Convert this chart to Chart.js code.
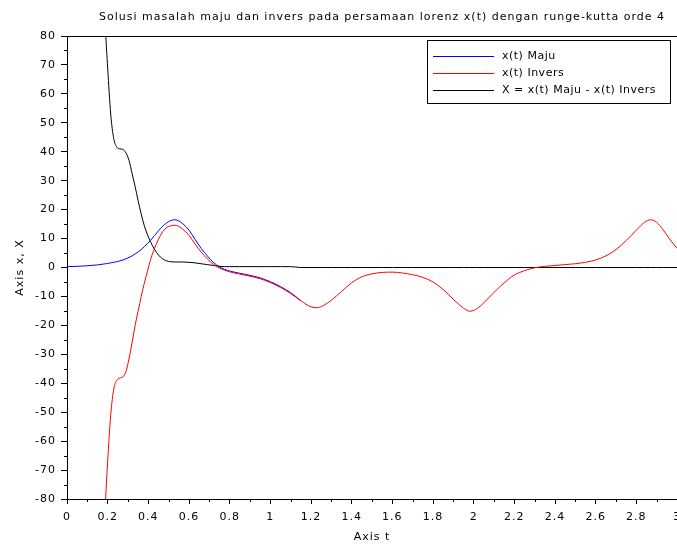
<!DOCTYPE html>
<html>
<head>
<meta charset="utf-8">
<title>Lorenz x(t) - runge-kutta orde 4</title>
<script src="https://cdn.jsdelivr.net/npm/chart.js@4/dist/chart.umd.min.js"></script>
<style>
  html, body { margin: 0; padding: 0; background: #fff; }
  #plot { display: block; }
</style>
</head>
<body>
<canvas id="plot" width="677" height="544"></canvas>
<script>
// waktu t (sumbu horizontal)
const tValues = [
    0, 0.05, 0.1, 0.15, 0.18, 0.19, 0.2, 0.215, 0.23, 0.245,
    0.26, 0.275, 0.29, 0.305, 0.32, 0.335, 0.35, 0.365, 0.38, 0.395,
    0.41, 0.43, 0.45, 0.47, 0.49, 0.51, 0.53, 0.55, 0.57, 0.6,
    0.63, 0.66, 0.69, 0.72, 0.75, 0.8, 0.85, 0.9, 0.95, 1.0,
    1.05, 1.1, 1.15, 1.2, 1.23, 1.26, 1.3, 1.35, 1.4, 1.45,
    1.5, 1.55, 1.6, 1.65, 1.7, 1.75, 1.8, 1.85, 1.9, 1.95,
    1.98, 2.01, 2.05, 2.1, 2.15, 2.2, 2.25, 2.3, 2.35, 2.4,
    2.45, 2.5, 2.55, 2.6, 2.65, 2.7, 2.75, 2.8, 2.84, 2.87,
    2.9, 2.93, 2.96, 3.0
];

// x(t) hasil integrasi maju; setelah t = 1.15 berimpit dengan x(t) invers
const xMaju = [
    0.3, 0.4, 0.6, 0.9, 1.2, 1.3, 1.4, 1.6, 1.8, 2.0,
    2.3, 2.6, 3.0, 3.5, 4.0, 4.7, 5.4, 6.2, 7.2, 8.2,
    9.3, 11.0, 12.7, 14.2, 15.4, 16.2, 16.5, 16.1, 15.1, 12.9,
    9.7, 6.6, 4.0, 1.8, 0.2, -1.2, -2.0, -2.7, -3.6, -4.9,
    -6.6, -8.7, -11.5, null, null, null, null, null, null, null,
    null, null, null, null, null, null, null, null, null, null,
    null, null, null, null, null, null, null, null, null, null,
    null, null, null, null, null, null, null, null, null, null,
    null, null, null, null
];

// x(t) hasil integrasi mundur (invers)
const xInvers = [
    null, null, null, -160, -97, -80, -67, -51, -42, -39,
    -38.2, -37.8, -36, -31.5, -26, -20, -15, -10, -5.5, -1.5,
    2.5, 6.5, 9.8, 12.3, 13.8, 14.4, 14.6, 14.2, 13.2, 11.1,
    8.1, 5.3, 3.0, 1.1, -0.2, -1.5, -2.3, -3.0, -3.9, -5.2,
    -6.9, -9.0, -11.5, -13.6, -13.9, -13.2, -11.3, -8.3, -5.3, -3.2,
    -2.2, -1.7, -1.6, -1.9, -2.5, -3.4, -5.0, -7.6, -11.0, -14.0,
    -15.1, -14.5, -12.2, -8.6, -5.3, -2.6, -1.1, -0.1, 0.4, 0.7,
    1.0, 1.3, 1.8, 2.6, 4.0, 6.2, 9.3, 12.9, 15.6, 16.5,
    15.6, 13.2, 10.2, 6.6
];

// X = x(t) Maju - x(t) Invers
const selisih = [
    null, null, null, 161, 98, 81.3, 69, 53, 44.5, 41.6,
    41, 40.8, 39.6, 37, 32.5, 28, 23, 18.5, 14.5, 11.5,
    9, 6.3, 4.3, 3.0, 2.3, 2.0, 1.9, 1.9, 1.9, 1.8,
    1.6, 1.3, 1.0, 0.7, 0.4, 0.3, 0.3, 0.3, 0.3, 0.3,
    0.3, 0.3, 0, 0, 0, 0, 0, 0, 0, 0,
    0, 0, 0, 0, 0, 0, 0, 0, 0, 0,
    0, 0, 0, 0, 0, 0, 0, 0, 0, 0,
    0, 0, 0, 0, 0, 0, 0, 0, 0, 0,
    0, 0, 0, 0
];

const judul = 'Solusi masalah maju dan invers pada persamaan lorenz x(t) dengan runge-kutta orde 4';
const FONT = '"DejaVu Sans", "Liberation Sans", sans-serif';

function toPoints(values) {
    return tValues.map((t, i) => ({ x: t, y: values[i] }));
}

// huruf sedikit direnggangkan seperti keluaran Scilab
const spacingPlugin = {
    id: 'spacing',
    beforeDraw(chart) {
        chart.ctx.letterSpacing = '1px';
    }
};

// garis-garis kecil (minor tick) + bingkai atas + judul + kotak legenda
const decorPlugin = {
    id: 'decor',
    afterDraw(chart) {
        const ctx = chart.ctx;
        const area = chart.chartArea;
        const sx = chart.scales.x;
        const sy = chart.scales.y;

        ctx.save();
        ctx.strokeStyle = '#000';
        ctx.lineWidth = 1;
        ctx.beginPath();
        for (let v = -75; v <= 75; v += 10) {
            const y = Math.round(sy.getPixelForValue(v)) + 0.5;
            ctx.moveTo(area.left - 3, y);
            ctx.lineTo(area.left, y);
        }
        for (let k = 1; k < 30; k += 2) {
            const x = Math.round(sx.getPixelForValue(k / 10)) + 0.5;
            ctx.moveTo(x, area.bottom);
            ctx.lineTo(x, area.bottom + 3);
        }
        // bingkai atas
        const top = Math.round(area.top) + 0.5;
        ctx.moveTo(area.left, top);
        ctx.lineTo(area.right, top);
        ctx.stroke();

        // judul
        ctx.fillStyle = '#000';
        ctx.font = '11px ' + FONT;
        ctx.letterSpacing = '1px';
        ctx.textAlign = 'center';
        ctx.textBaseline = 'middle';
        ctx.fillText(judul, 382, 17);

        // legenda
        const box = { x: 427.5, y: 40.5, w: 243, h: 63 };
        ctx.fillStyle = '#fff';
        ctx.fillRect(box.x, box.y, box.w, box.h);
        ctx.strokeRect(box.x, box.y, box.w, box.h);
        ctx.textAlign = 'left';
        ctx.letterSpacing = '0.5px';
        chart.data.datasets.forEach((ds, i) => {
            const y = 56 + i * 17;
            ctx.strokeStyle = ds.borderColor;
            ctx.beginPath();
            ctx.moveTo(433, y + 0.5);
            ctx.lineTo(494, y + 0.5);
            ctx.stroke();
            ctx.fillStyle = '#000';
            ctx.fillText(ds.label, 502, y);
        });
        ctx.restore();
    }
};

new Chart(document.getElementById('plot'), {
    type: 'line',
    data: {
        datasets: [
            {
                label: 'x(t) Maju',
                data: toPoints(xMaju),
                borderColor: '#0000ff',
                order: 2
            },
            {
                label: 'x(t) Invers',
                data: toPoints(xInvers),
                borderColor: '#ff0000',
                order: 0
            },
            {
                label: 'X = x(t) Maju - x(t) Invers',
                data: toPoints(selisih),
                borderColor: '#000000',
                order: 1
            }
        ]
    },
    options: {
        responsive: false,
        animation: false,
        parsing: false,
        layout: { padding: { top: 36, right: 0, left: 0, bottom: 0 } },
        elements: {
            point: { radius: 0 },
            line: { borderWidth: 1, cubicInterpolationMode: 'monotone', fill: false }
        },
        plugins: {
            legend: { display: false },
            title: { display: false },
            tooltip: { enabled: false }
        },
        scales: {
            x: {
                type: 'linear',
                min: 0,
                max: 3,
                afterFit(scale) {
                    scale.height = 45;
                    scale.paddingLeft = 0;
                    scale.paddingRight = 0;
                },
                ticks: {
                    stepSize: 0.2,
                    maxRotation: 0,
                    autoSkip: false,
                    padding: 7,
                    color: '#000',
                    font: { family: FONT, size: 11 },
                    callback: v => String(Number(v.toFixed(1)))
                },
                grid: { display: true, drawOnChartArea: false, drawTicks: true, tickLength: 5, color: '#000' },
                border: { display: true, color: '#000' },
                title: {
                    display: true,
                    text: 'Axis t',
                    color: '#000',
                    font: { family: FONT, size: 11 },
                    padding: { top: 0, bottom: 0 }
                }
            },
            y: {
                type: 'linear',
                min: -80,
                max: 80,
                afterFit(scale) {
                    scale.width = 67;
                },
                ticks: {
                    stepSize: 10,
                    padding: 5,
                    color: '#000',
                    font: { family: FONT, size: 11 }
                },
                grid: { display: true, drawOnChartArea: false, drawTicks: true, tickLength: 6, color: '#000' },
                border: { display: true, color: '#000' },
                title: {
                    display: true,
                    text: 'Axis x, X',
                    color: '#000',
                    font: { family: FONT, size: 11 },
                    padding: { top: 14, bottom: 0 }
                }
            }
        }
    },
    plugins: [spacingPlugin, decorPlugin]
});
</script>
</body>
</html>
